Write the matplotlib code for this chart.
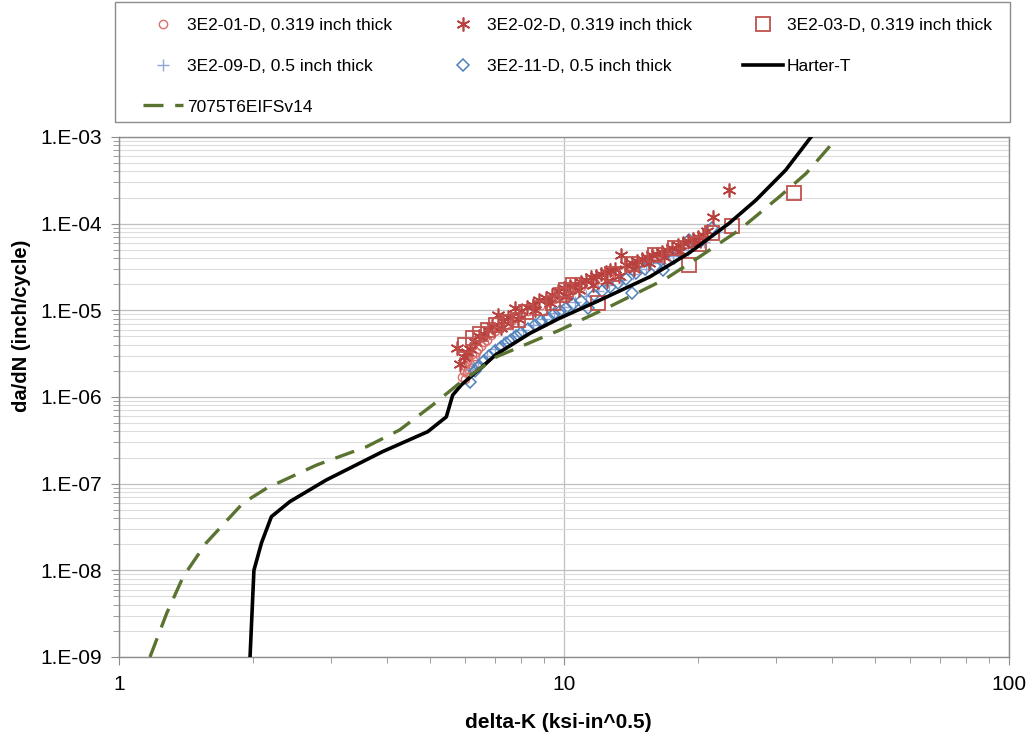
import math
import matplotlib
matplotlib.use("Agg")
import matplotlib.pyplot as plt
from matplotlib.patches import Rectangle
from matplotlib.ticker import LogLocator, FuncFormatter, NullFormatter

plt.rcParams['font.family'] = ['Liberation Sans', 'DejaVu Sans']

# 3E2-01-D, 0.319 inch thick (circles)
k_01 = [5.9, 5.95, 6.0, 6.0, 6.05, 6.05, 6.1, 6.1, 6.15, 6.2, 6.2, 6.25, 6.3, 6.35, 6.4,
        6.5, 6.6, 6.7, 6.85, 7.0, 7.2, 7.4, 7.6, 7.8, 8.0, 8.3, 8.6, 8.9, 9.2, 9.5,
        9.8, 10.1, 10.5, 10.9, 11.3, 11.7, 12.1, 12.6, 13.1, 13.6, 14.2, 14.8, 15.4, 16.0, 16.7,
        17.4, 18.1, 18.9, 19.7]
r_01 = [1.7e-6, 2.0e-6, 1.6e-6, 2.3e-6, 1.9e-6, 2.6e-6, 2.1e-6, 2.9e-6, 2.4e-6, 2.2e-6,
        3.1e-6, 2.7e-6, 3.0e-6, 3.3e-6, 3.6e-6, 3.9e-6, 4.3e-6, 4.6e-6, 5.2e-6, 5.8e-6,
        6.4e-6, 7.0e-6, 7.6e-6, 8.2e-6, 8.8e-6, 9.7e-6, 1.06e-5, 1.16e-5, 1.26e-5, 1.36e-5,
        1.46e-5, 1.56e-5, 1.7e-5, 1.85e-5, 2.0e-5, 2.15e-5, 2.3e-5, 2.5e-5, 2.7e-5, 2.95e-5,
        3.2e-5, 3.5e-5, 3.8e-5, 4.1e-5, 4.5e-5, 4.9e-5, 5.3e-5, 5.8e-5, 6.3e-5]

# 3E2-02-D, 0.319 inch thick (asterisks)
k_02 = [5.75, 5.85, 5.95, 6.05, 6.15, 6.3, 6.45, 6.6, 6.75, 6.9, 7.1, 7.3, 7.5, 7.75, 8.0,
        8.25, 8.5, 8.8, 9.1, 9.4, 9.7, 10.0, 10.3, 10.6, 10.9, 11.2, 11.5, 11.8, 12.1, 12.4,
        12.7, 13.0, 13.4, 13.8, 14.2, 14.6, 15.0, 15.4, 15.8, 16.2, 16.6, 17.0, 17.5, 18.0, 18.5,
        19.0, 19.5, 20.0, 20.5, 21.0, 21.6, 23.5,
        7.2, 7.9, 8.6, 9.3, 10.1, 10.8, 11.6, 12.5, 13.3, 14.4, 15.5, 16.8, 18.2, 19.7]
r_02 = [3.7e-6, 2.4e-6, 2.9e-6, 3.3e-6, 3.6e-6, 4.3e-6, 5.0e-6, 5.4e-6, 6.0e-6, 6.6e-6,
        8.8e-6, 7.6e-6, 8.4e-6, 1.07e-5, 9.8e-6, 1.08e-5, 1.15e-5, 1.3e-5, 1.4e-5, 1.5e-5,
        1.65e-5, 1.8e-5, 1.9e-5, 2.0e-5, 2.15e-5, 2.25e-5, 2.4e-5, 2.5e-5, 2.6e-5, 2.75e-5,
        2.9e-5, 3.0e-5, 4.3e-5, 3.3e-5, 3.5e-5, 3.7e-5, 3.9e-5, 4.1e-5, 4.3e-5, 4.5e-5,
        4.7e-5, 5.0e-5, 5.3e-5, 5.7e-5, 6.0e-5, 6.3e-5, 6.6e-5, 7.0e-5, 7.4e-5, 8.2e-5,
        1.2e-4, 2.45e-4,
        6.3e-6, 8.0e-6, 1.0e-5, 1.2e-5, 1.45e-5, 1.7e-5, 1.95e-5, 2.2e-5, 2.5e-5, 3.0e-5,
        3.5e-5, 4.1e-5, 4.9e-5, 5.9e-5]

# 3E2-03-D, 0.319 inch thick (squares)
k_03 = [5.98, 6.24, 6.46, 6.75, 7.04, 7.42, 7.88, 8.23, 8.81, 9.44, 9.9, 10.1, 10.5, 11.9,
        12.8, 14.2, 16.0, 17.8, 19.1, 20.1, 21.5, 23.85, 32.9]
r_03 = [3.98e-6, 4.75e-6, 5.4e-6, 5.9e-6, 6.8e-6, 7.4e-6, 7.7e-6, 9.6e-6, 1.05e-5, 1.2e-5,
        1.5e-5, 1.72e-5, 1.96e-5, 1.2e-5, 2.6e-5, 3.4e-5, 4.3e-5, 5.3e-5, 3.3e-5, 5.9e-5,
        7.8e-5, 9.4e-5, 2.28e-4]

# 3E2-09-D, 0.5 inch thick (plus)
k_09 = [6.2, 6.4, 6.7, 7.0, 7.3, 7.7, 8.1, 8.5, 9.0, 9.5, 10.0, 10.6, 11.2, 11.9, 12.6,
        13.4, 14.3, 15.3, 16.4, 17.6, 19.0, 20.6, 22.3]
r_09 = [2.1e-6, 2.5e-6, 3.0e-6, 3.6e-6, 4.2e-6, 5.0e-6, 5.9e-6, 6.8e-6, 8.0e-6, 9.3e-6,
        1.08e-5, 1.25e-5, 1.45e-5, 1.68e-5, 1.95e-5, 2.25e-5, 2.6e-5, 3.0e-5, 3.5e-5, 4.2e-5,
        5.0e-5, 6.2e-5, 8.0e-5]

# 3E2-11-D, 0.5 inch thick (diamonds)
k_11 = [6.15, 6.3, 6.45, 6.6, 6.8, 7.0, 7.2, 7.4, 7.6, 7.8, 8.0, 8.3, 8.6, 8.9, 9.2,
        9.5, 9.8, 10.1, 10.5, 10.9, 11.3, 11.7, 12.2, 12.7, 13.2, 13.8, 14.2, 14.5, 15.2, 16.1,
        16.7, 17.7, 19.1, 20.3, 21.5]
r_11 = [1.48e-6, 2.0e-6, 2.3e-6, 2.6e-6, 3.0e-6, 3.4e-6, 3.8e-6, 4.2e-6, 4.6e-6, 5.0e-6,
        5.5e-6, 6.1e-6, 6.8e-6, 7.5e-6, 8.2e-6, 9.0e-6, 9.8e-6, 1.07e-5, 1.17e-5, 1.27e-5,
        1.05e-5, 1.5e-5, 1.65e-5, 1.85e-5, 2.05e-5, 2.3e-5, 1.57e-5, 2.7e-5, 3.0e-5, 3.2e-5,
        2.92e-5, 4.0e-5, 6.5e-5, 6.3e-5, 8.9e-5]

# Harter-T curve
k_harter = [1.97, 2.01, 2.09, 2.20, 2.42, 2.92, 3.91, 4.94, 5.44, 5.62, 5.88, 7.04, 8.37,
            9.77, 12.0, 15.6, 19.1, 23.5, 27.0, 31.5, 35.9]
r_harter = [1e-9, 1e-8, 2.07e-8, 4.16e-8, 6.2e-8, 1.1e-7, 2.34e-7, 3.98e-7, 5.9e-7, 1.05e-6,
            1.38e-6, 3.1e-6, 5.4e-6, 8.1e-6, 1.3e-5, 2.44e-5, 4.59e-5, 1.01e-4, 1.87e-4,
            4.16e-4, 1e-3]

# 7075T6EIFSv14 curve
k_eifs = [1.174, 1.28, 1.394, 1.57, 1.90, 2.15, 2.78, 3.60, 4.27, 5.07, 5.83, 7.04, 9.77,
          12.65, 16.9, 20.1, 24.8, 30.5, 35.0, 39.8]
r_eifs = [1e-9, 3.2e-9, 8.45e-9, 2.07e-8, 5.98e-8, 8.9e-8, 1.64e-7, 2.67e-7, 4.16e-7,
          8.1e-7, 1.45e-6, 2.9e-6, 5.9e-6, 1.1e-5, 2.3e-5, 4.1e-5, 8.5e-5, 2.05e-4, 3.8e-4,
          8.1e-4]

fig = plt.figure(figsize=(10.31, 7.36), dpi=100)
ax = fig.add_axes([119 / 1031, 1 - 657 / 736, 890 / 1031, 520 / 736])

red = '#C0504D'
blue = '#4F81BD'

h01, = ax.plot(k_01, r_01, ls='none', marker='o', ms=6, mfc='none', mec='#D9706C', mew=1.0,
               label='3E2-01-D, 0.319 inch thick')
h09, = ax.plot(k_09, r_09, ls='none', marker='+', ms=8, mec='#8FA8D8', mew=1.0,
               label='3E2-09-D, 0.5 inch thick')
h11, = ax.plot(k_11, r_11, ls='none', marker='D', ms=6.5, mfc='none', mec=blue, mew=1.1,
               label='3E2-11-D, 0.5 inch thick')
h02, = ax.plot(k_02, r_02, ls='none', marker=(6, 2, 0), ms=10, mec='#B8413E', mew=1.2,
               label='3E2-02-D, 0.319 inch thick')
h03, = ax.plot(k_03, r_03, ls='none', marker='s', ms=10, mfc='none', mec=red, mew=1.3,
               label='3E2-03-D, 0.319 inch thick')
hh, = ax.plot(k_harter, r_harter, color='black', lw=2.6, label='Harter-T', zorder=4)
he, = ax.plot(k_eifs, r_eifs, color='#5A7330', lw=2.4, ls=(0, (6, 3.5)),
              label='7075T6EIFSv14', zorder=4)

ax.set_xscale('log')
ax.set_yscale('log')
ax.set_xlim(1, 100)
ax.set_ylim(1e-9, 1e-3)

ax.yaxis.set_major_locator(LogLocator(base=10, numticks=20))
ax.yaxis.set_minor_locator(LogLocator(base=10, subs=range(2, 10), numticks=20))
ax.yaxis.set_major_formatter(FuncFormatter(lambda v, p: '1.E-%02d' % round(-math.log10(v))))
ax.yaxis.set_minor_formatter(NullFormatter())
ax.xaxis.set_major_formatter(FuncFormatter(lambda v, p: '%d' % round(v)))
ax.xaxis.set_minor_formatter(NullFormatter())

ax.grid(True, which='major', axis='y', color='#BFBFBF', lw=0.9)
ax.grid(True, which='minor', axis='y', color='#DCDCDC', lw=0.8)
ax.grid(True, which='major', axis='x', color='#BFBFBF', lw=0.9)
ax.set_axisbelow(True)

for s in ax.spines.values():
    s.set_color('#8C8C8C')
    s.set_linewidth(1.0)

ax.tick_params(which='both', direction='out', color='#8C8C8C', labelsize=15)
ax.tick_params(which='major', length=6)
ax.tick_params(which='minor', length=4)
ax.tick_params(axis='x', pad=7)
ax.tick_params(axis='y', pad=6)

ax.set_xlabel('delta-K (ksi-in^0.5)', fontsize=15, fontweight='bold', va='center')
ax.xaxis.set_label_coords((558 - 119) / 890, (657 - 722) / 520)
ax.set_ylabel('da/dN (inch/cycle)', fontsize=14.5, fontweight='bold', va='center')
ax.yaxis.set_label_coords((22 - 119) / 890, (657 - 326) / 520)

# legend box above the plot area
fig.patches.append(Rectangle((115 / 1031, 1 - 122 / 736), 895 / 1031, 120 / 736,
                             transform=fig.transFigure, fill=False,
                             edgecolor='#8C8C8C', lw=1.0))

handles = [h01, h09, he, h02, h11, h03, hh]
fs = 12.5
em = fs * 100 / 72
leg = fig.legend(handles=handles, loc='upper left', ncol=3, frameon=False,
                 bbox_to_anchor=(143 / 1031, 1 - 18 / 736),
                 fontsize=fs, handlelength=40 / em, handletextpad=4 / em,
                 columnspacing=51 / em, borderpad=0, labelspacing=1.47,
                 borderaxespad=0)

fig.savefig('out.png', dpi=100)
